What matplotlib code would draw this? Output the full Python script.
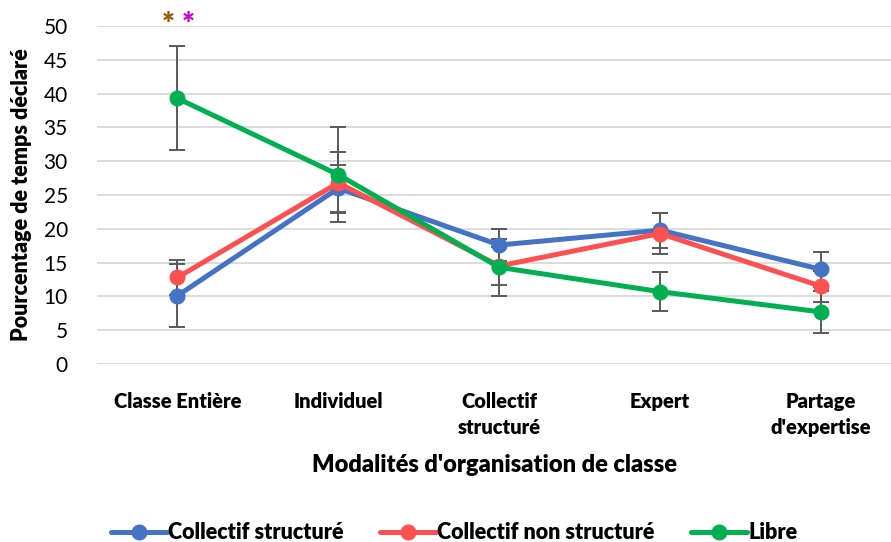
import matplotlib
matplotlib.use("Agg")
import matplotlib.pyplot as plt
import numpy as np

plt.rcParams["font.family"] = ["Lato", "DejaVu Sans"]

categories = ["Classe Entière", "Individuel", "Collectif\nstructuré", "Expert", "Partage\nd'expertise"]
series_names = ["Collectif structuré", "Collectif non structuré", "Libre"]
colors = ["#4472C4", "#FF5050", "#00B050"]

structure_vals = [10.1, 26.0, 17.6, 19.8, 14.0]
structure_err = [4.7, 3.5, 2.4, 2.6, 2.6]
non_structure_vals = [12.8, 26.8, 14.5, 19.3, 11.5]
non_structure_err = [2.6, 4.5, 2.8, 3.1, 2.3]
libre_vals = [39.3, 28.0, 14.3, 10.7, 7.7]
libre_err = [7.7, 7.0, 4.2, 2.9, 3.1]

values = [structure_vals, non_structure_vals, libre_vals]
errors = [structure_err, non_structure_err, libre_err]

fig = plt.figure(figsize=(8.91, 5.42), dpi=100)
ax = fig.add_axes([97 / 891, 1 - 364 / 542, (891 - 97) / 891, (364 - 26) / 542])

x = np.arange(len(categories))
for vals, errs in zip(values, errors):
    ax.errorbar(x, vals, yerr=errs, fmt="none", ecolor="#595959", elinewidth=1.4,
                capsize=6, capthick=1.4, zorder=2)
for vals, col, name in zip(values, colors, series_names):
    ax.plot(x, vals, color=col, lw=3.6, marker="o", markersize=10.5, label=name,
            solid_capstyle="round", zorder=3)

ax.set_xlim(-0.5, 4.435)
ax.set_ylim(0, 50)
ax.set_yticks(np.arange(0, 51, 5))
ax.yaxis.grid(True, color="#D9D9D9", lw=1.3)
ax.set_axisbelow(True)
for s in ax.spines.values():
    s.set_visible(False)
ax.tick_params(axis="both", length=0)
ax.tick_params(axis="y", labelsize=15, pad=21)
ax.set_xticks(x)
ax.set_xticklabels(categories, fontsize=14.5, fontweight="heavy", va="top", linespacing=1.45)
ax.tick_params(axis="x", pad=20)

ax.set_ylabel("Pourcentage de temps déclaré", fontsize=15.5, fontweight="heavy")
ax.yaxis.set_label_coords(-0.082, 0.5)
ax.set_xlabel("Modalités d'organisation de classe", fontsize=17, fontweight="heavy", labelpad=12)

ax.text(-0.06, 50.1, "*", color="#9C5700", fontsize=22, fontweight="heavy", ha="center", va="center")
ax.text(0.07, 50.1, "*", color="#CC00CC", fontsize=22, fontweight="heavy", ha="center", va="center")

leg = fig.legend(loc="lower center", bbox_to_anchor=(0.51, -0.038), ncol=3, frameon=False,
                 prop={"size": 15.5, "weight": "heavy"}, handlelength=2.6, columnspacing=1.7,
                 handletextpad=0.05)

fig.savefig("out.png", dpi=100)
